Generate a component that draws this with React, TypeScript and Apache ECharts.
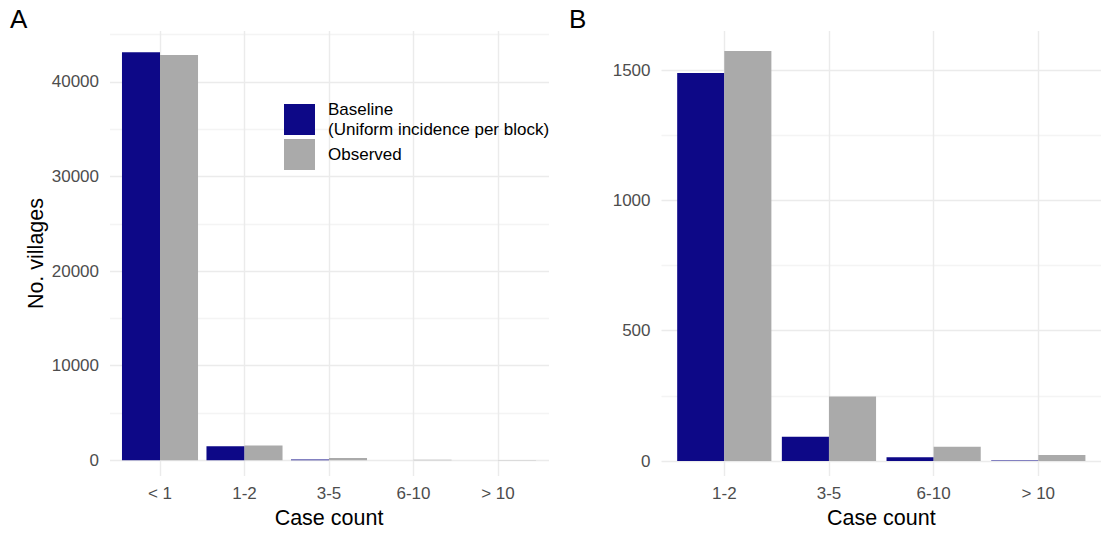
import React, { useEffect, useRef } from 'react';
import * as echarts from 'echarts';

const categoriesA = ['< 1', '1-2', '3-5', '6-10', '> 10'];
const baselineA = [43150, 1488, 93, 14, 2];
const observedA = [42850, 1573, 247, 55, 23];

const categoriesB = ['1-2', '3-5', '6-10', '> 10'];
const baselineB = [1488, 93, 14, 2];
const observedB = [1573, 247, 55, 23];

const seriesNames = ['Baseline', 'Observed'];
const legendLabels: Record<string, string> = {
  Baseline: 'Baseline\n(Uniform incidence per block)',
  Observed: 'Observed',
};

const yLabelStepA = 10000;
const yGridStepA = 5000;
const yMaxGridA = 45000;
const yLabelStepB = 500;
const yGridStepB = 250;
const yMaxGridB = 1500;
const yMaxDataB = 1750;

const xTitle = 'Case count';
const yTitle = 'No. villages';

const FONT = '"Liberation Sans", Arial, sans-serif';
const BASE_COLOR = '#0D0887';
const OBS_COLOR = '#AAAAAA';
const GRID_MAJOR = '#EBEBEB';
const GRID_MINOR = '#F4F4F4';
const TICK_COLOR = '#4D4D4D';

function buildOption() {
  const grids = [
    { left: 110, top: 34.7, width: 439, height: 425.6 },
    { left: 160, top: 31, width: 338, height: 450 },
    { left: 117.75, top: 34.7, width: 422.5, height: 425.6 },
    { left: 661.5, top: 70, width: 439.5, height: 391 },
    { left: 724.3, top: 31, width: 314, height: 450.5 },
    { left: 671.95, top: 4.8, width: 418.7, height: 456.2 },
  ];

  const hiddenValueX = (gi: number) => ({ type: 'value', gridIndex: gi, show: false, min: 0, max: 1 });
  const labelCatX = (gi: number, cats: string[]) => ({
    type: 'category',
    gridIndex: gi,
    data: cats,
    boundaryGap: false,
    axisLine: { show: false },
    axisTick: { show: false },
    splitLine: { show: true, lineStyle: { color: GRID_MAJOR, width: 1.4 } },
    axisLabel: { fontSize: 17, color: TICK_COLOR, fontFamily: FONT, margin: 9 },
    name: xTitle,
    nameLocation: 'middle',
    nameGap: 30,
    nameTextStyle: { fontSize: 21.5, color: '#000', fontFamily: FONT },
  });
  const dataCatX = (gi: number, cats: string[]) => ({
    type: 'category', gridIndex: gi, data: cats, show: false,
  });

  const gridY = (gi: number, max: number, step: number, labelStep: number) => ({
    type: 'value',
    gridIndex: gi,
    min: 0,
    max,
    interval: step,
    axisLine: { show: false },
    axisTick: { show: false },
    splitLine: { show: true, lineStyle: { color: [GRID_MAJOR, GRID_MINOR], width: 1.4 } },
    axisLabel: {
      fontSize: 17,
      color: TICK_COLOR,
      fontFamily: FONT,
      margin: 11,
      formatter: (v: number) => (v % labelStep === 0 ? String(v) : ''),
    },
  });
  const nameY = (gi: number, withName: boolean) => ({
    type: 'value',
    gridIndex: gi,
    min: 0,
    max: 1,
    axisLine: { show: false },
    axisTick: { show: false },
    axisLabel: { show: false },
    splitLine: { show: false },
    name: withName ? yTitle : '',
    nameLocation: 'middle',
    nameGap: 113,
    nameTextStyle: { fontSize: 21.5, color: '#000', fontFamily: FONT },
  });
  const dataY = (gi: number, max: number) => ({ type: 'value', gridIndex: gi, min: 0, max, show: false });

  const bar = (name: string, xi: number, data: number[], color: string) => ({
    type: 'bar',
    name,
    xAxisIndex: xi,
    yAxisIndex: xi,
    data,
    barGap: '0%',
    barCategoryGap: '10%',
    itemStyle: { color },
    emphasis: { disabled: true },
  });

  return {
    animation: false,
    backgroundColor: '#FFFFFF',
    textStyle: { fontFamily: FONT },
    grid: grids,
    xAxis: [
      hiddenValueX(0),
      labelCatX(1, categoriesA),
      dataCatX(2, categoriesA),
      hiddenValueX(3),
      labelCatX(4, categoriesB),
      dataCatX(5, categoriesB),
    ],
    yAxis: [
      gridY(0, yMaxGridA, yGridStepA, yLabelStepA),
      nameY(1, true),
      dataY(2, yMaxGridA),
      gridY(3, yMaxGridB, yGridStepB, yLabelStepB),
      nameY(4, false),
      dataY(5, yMaxDataB),
    ],
    legend: {
      data: seriesNames,
      left: 284,
      top: 100,
      orient: 'vertical',
      padding: 0,
      itemWidth: 31,
      itemHeight: 31,
      itemGap: 0,
      icon: 'rect',
      selectedMode: false,
      formatter: (n: string) => legendLabels[n] || n,
      textStyle: { fontSize: 17, lineHeight: 19.5, color: '#000', fontFamily: FONT, padding: [0, 0, 0, 8] },
    },
    graphic: [
      { type: 'text', left: 10, top: 6, style: { text: 'A', fontSize: 26, fill: '#000', fontFamily: FONT } },
      { type: 'text', left: 569, top: 6, style: { text: 'B', fontSize: 26, fill: '#000', fontFamily: FONT } },
    ],
    series: [
      bar(seriesNames[0], 2, baselineA, BASE_COLOR),
      bar(seriesNames[1], 2, observedA, OBS_COLOR),
      bar(seriesNames[0], 5, baselineB, BASE_COLOR),
      bar(seriesNames[1], 5, observedB, OBS_COLOR),
    ],
  };
}

export default function App() {
  const ref = useRef<HTMLDivElement>(null);
  useEffect(() => {
    document.body.style.margin = '0';
    if (!ref.current) return;
    const chart = echarts.init(ref.current, null, { renderer: 'svg' });
    chart.setOption(buildOption() as any);
    return () => chart.dispose();
  }, []);
  return (
    <div
      ref={ref}
      style={{ position: 'absolute', left: 0, top: 0, width: 1101, height: 534, background: '#fff' }}
    />
  );
}
